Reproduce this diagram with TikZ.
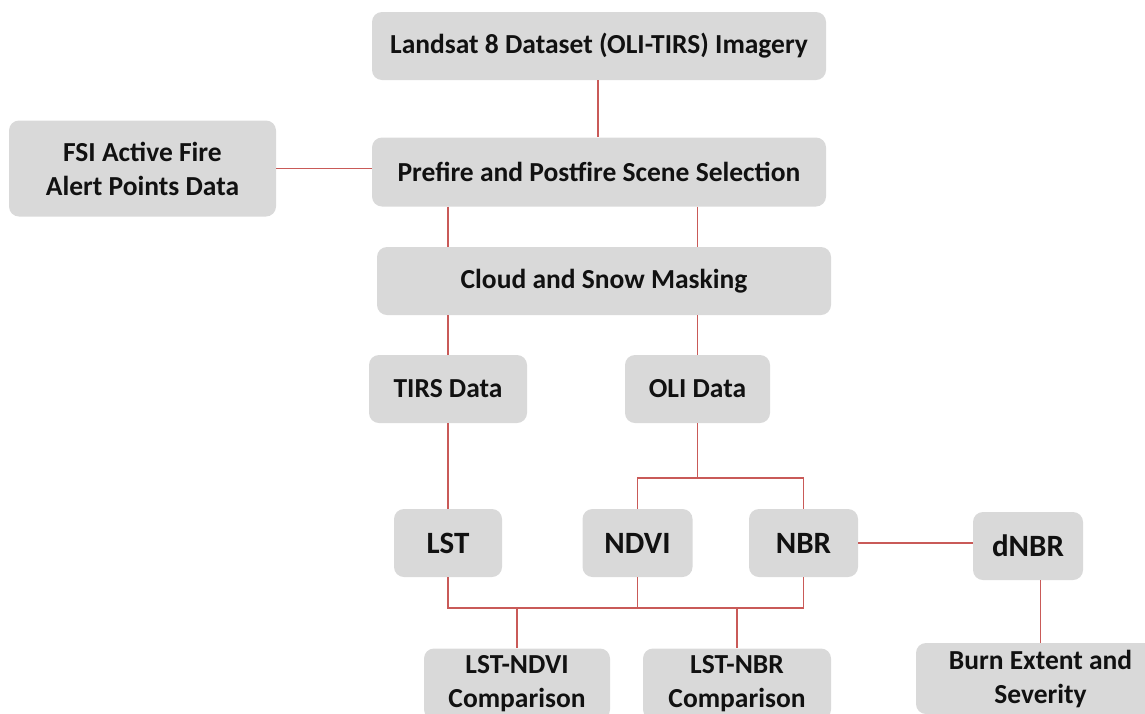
\documentclass[tikz,border=0pt]{standalone}
\usepackage{fontspec}
\setmainfont{Carlito}
\definecolor{boxgray}{HTML}{D9D9D9}
\definecolor{linkred}{HTML}{C95A58}
\definecolor{textdark}{HTML}{111111}
\begin{document}
\begin{tikzpicture}[x=1pt,y=-1pt,
  box/.style={draw=none, fill=boxgray, rounded corners=10pt, inner sep=0pt,
    align=center, text=textdark, font=\fontsize{27.5}{34}\selectfont\bfseries},
  bigbox/.style={box, font=\fontsize{31}{36}\selectfont\bfseries},
  link/.style={draw=linkred, line width=1.1pt}]
\useasboundingbox (0,0) rectangle (1145,713);
\clip (0,0) rectangle (1145,713);

% processing chain
\node[box, minimum width=454pt, minimum height=68pt] (land) at (599,46) {Landsat 8 Dataset (OLI-TIRS) Imagery};
\node[box, minimum width=454pt, minimum height=69pt] (pre) at (599,172) {Prefire and Postfire Scene Selection};
\node[box, minimum width=267pt, minimum height=96pt] (fsi) at (142.5,168.5) {FSI Active Fire\\Alert Points Data};
\node[box, minimum width=454pt, minimum height=68pt] (cloud) at (604,281) {Cloud and Snow Masking};
\node[box, minimum width=158pt, minimum height=68pt] (tirs) at (448,389) {TIRS Data};
\node[box, minimum width=145pt, minimum height=68pt] (oli) at (697.5,389) {OLI Data};

% indices
\node[bigbox, minimum width=108pt, minimum height=68pt] (lst) at (448,543) {LST};
\node[bigbox, minimum width=110pt, minimum height=68pt] (ndvi) at (637.5,543) {NDVI};
\node[bigbox, minimum width=109pt, minimum height=68pt] (nbr) at (803.5,543) {NBR};
\node[bigbox, minimum width=110pt, minimum height=68pt] (dnbr) at (1028,546) {dNBR};

% outputs
\node[box, minimum width=186pt, minimum height=71pt] (lstndvi) at (517,684) {LST-NDVI\\Comparison};
\node[box, minimum width=188pt, minimum height=71pt] (lstnbr) at (737,684) {LST-NBR\\Comparison};
\node[box, minimum width=249pt, minimum height=71pt] (burn) at (1040.5,678.5) {Burn Extent and\\Severity};

% connectors
\coordinate (osplit) at (697.5,478);
\coordinate (busy) at (0,608);
\draw[link] (land.south -| 598,0) -- (pre.north -| 598,0);
\draw[link] (fsi.east) -- (fsi.east -| pre.west);
\draw[link] (pre.south -| tirs.north) -- (cloud.north -| tirs.north);
\draw[link] (pre.south -| oli.north) -- (cloud.north -| oli.north);
\draw[link] (cloud.south -| tirs.north) -- (tirs.north);
\draw[link] (cloud.south -| oli.north) -- (oli.north);
\draw[link] (tirs.south) -- (lst.north);
\draw[link] (oli.south) -- (osplit);
\draw[link] (ndvi.north) |- (osplit) -| (nbr.north);
\draw[link] (lst.south) -- (lst.south |- busy) -- (nbr.south |- busy) -- (nbr.south);
\draw[link] (ndvi.south) -- (ndvi.south |- busy);
\draw[link] (lstndvi.north |- busy) -- (lstndvi.north);
\draw[link] (lstnbr.north |- busy) -- (lstnbr.north);
\draw[link] (nbr.east) -- (nbr.east -| dnbr.west);
\draw[link] (dnbr.south -| burn.north) -- (burn.north);
\end{tikzpicture}
\end{document}
